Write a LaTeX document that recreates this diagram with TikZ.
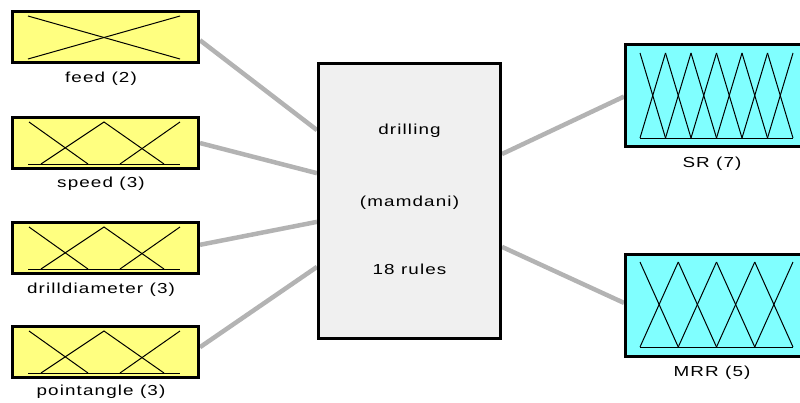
\documentclass[tikz,border=0pt]{standalone}
\usepackage{fontspec}
\usepackage{graphicx}
\setmainfont{Liberation Sans}
\newfontfamily\lblfont[LetterSpace=6]{Liberation Sans}
\usetikzlibrary{calc,backgrounds}
\definecolor{inyellow}{HTML}{FFFF80}
\definecolor{outcyan}{HTML}{80FFFF}
\definecolor{coregray}{HTML}{F0F0F0}
\definecolor{linkgray}{HTML}{B3B3B3}
\newcommand{\widetxt}[1]{\scalebox{1.3}[1]{\lblfont #1}}
\begin{document}
\begin{tikzpicture}[x=1pt,y=-1pt,
  every node/.style={font=\fontsize{14.5}{17}\selectfont},
  inbox/.style={draw=black,line width=3pt,fill=inyellow,minimum width=186pt,minimum height=51pt,inner sep=0pt},
  outbox/.style={draw=black,line width=3pt,fill=outcyan,minimum width=179pt,minimum height=102pt,inner sep=0pt},
  corebox/.style={draw=black,line width=3pt,fill=coregray,minimum width=182pt,minimum height=275pt,inner sep=0pt},
  link/.style={draw=linkgray,line width=4.5pt},
  mf/.style={line width=1pt,draw=black},
  lbl/.style={anchor=base,inner sep=0pt}]
\path[use as bounding box] (0,0) rectangle (800,402);
\clip (0,0) rectangle (800,402);

% boxes
\node[inbox] (feed) at (105.5,37) {};
\node[inbox] (speed) at (105.5,142.5) {};
\node[inbox] (drill) at (105.5,247.5) {};
\node[inbox] (point) at (105.5,351.5) {};
\node[corebox] (core) at (409.5,201) {};
\node[outbox] (sr) at (715,95.5) {};
\node[outbox] (mrr) at (715,305) {};

% connectors
\begin{scope}[on background layer]
\draw[link] ($(feed.north east)!0.56!(feed.south east)$) -- ($(core.north west)!0.245!(core.south west)$);
\draw[link] ($(speed.north east)!0.51!(speed.south east)$) -- ($(core.north west)!0.40!(core.south west)$);
\draw[link] ($(drill.north east)!0.45!(drill.south east)$) -- ($(core.north west)!0.575!(core.south west)$);
\draw[link] ($(point.north east)!0.42!(point.south east)$) -- ($(core.north west)!0.737!(core.south west)$);
\draw[link] ($(core.north east)!0.331!(core.south east)$) -- ($(sr.north west)!0.51!(sr.south west)$);
\draw[link] ($(core.north east)!0.665!(core.south east)$) -- ($(mrr.north west)!0.48!(mrr.south west)$);
\end{scope}

% membership functions: feed (2)
\draw[mf] (28,16) -- (180,59);
\draw[mf] (28,59) -- (180,16);
% three-MF inputs
\foreach \y in {115,220,324}{
  \draw[mf] (28,\y+49) -- (180,\y+49);
  \draw[mf] (29,\y+7) -- (88,\y+49);
  \draw[mf] (41,\y+49) -- (104,\y+7) -- (164,\y+49);
  \draw[mf] (120,\y+49) -- (180,\y+7);
}
% SR (7)
\draw[mf] (640,138) -- (793,138);
\foreach \i in {1,...,6}{
  \draw[mf] ({640+(\i-1)*25.5},138) -- ({640+\i*25.5},53);
  \draw[mf] ({640+(\i-1)*25.5},53) -- ({640+\i*25.5},138);
}
% MRR (5)
\draw[mf] (640,347) -- (793,347);
\foreach \i in {1,...,4}{
  \draw[mf] ({640+(\i-1)*38.25},347) -- ({640+\i*38.25},262);
  \draw[mf] ({640+(\i-1)*38.25},262) -- ({640+\i*38.25},347);
}

% labels
\node[lbl] (lfeed) at (101,82.5) {\widetxt{feed (2)}};
\node[lbl] (lspeed) at (101,187) {\widetxt{speed (3)}};
\node[lbl] (ldrill) at (101,293) {\widetxt{drilldiameter (3)}};
\node[lbl] (lpoint) at (101,395) {\widetxt{pointangle (3)}};
\node[lbl] (lsr) at (712,167) {\widetxt{SR (7)}};
\node[lbl] (lmrr) at (712,376) {\widetxt{MRR (5)}};
\node[lbl] (tname) at (409.5,134) {\widetxt{drilling}};
\node[lbl] (ttype) at (409.5,206.5) {\widetxt{(mamdani)}};
\node[lbl] (trules) at (409.5,274) {\widetxt{18 rules}};
\end{tikzpicture}
\end{document}
